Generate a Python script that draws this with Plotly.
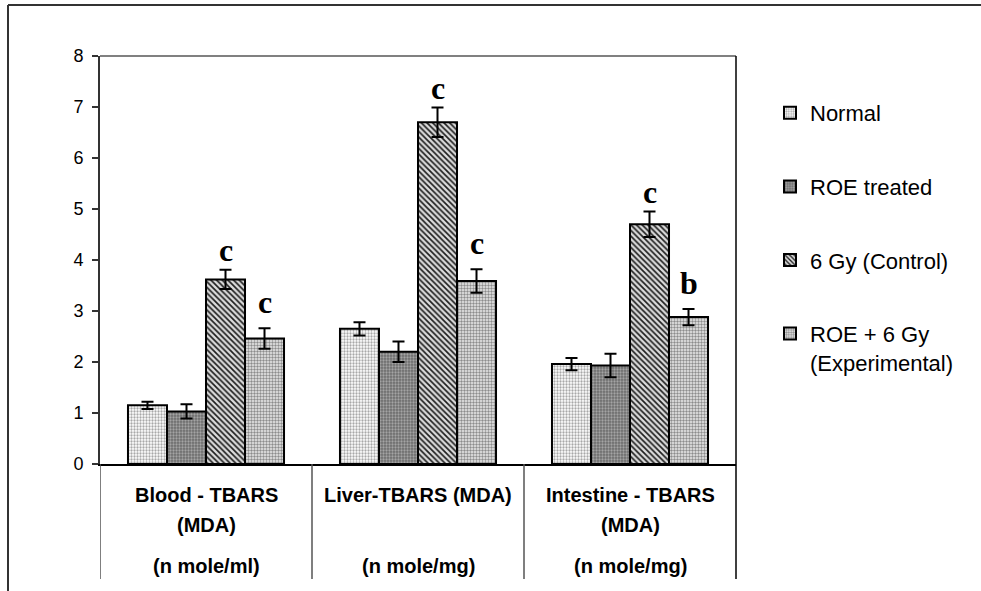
import plotly.graph_objects as go

# ---------------- data ----------------
categories = ["Blood", "Liver", "Intestine"]
label_line1 = ["Blood - TBARS", "Liver-TBARS (MDA)", "Intestine - TBARS"]
label_line2 = ["(MDA)", "", "(MDA)"]
units = ["(n mole/ml)", "(n mole/mg)", "(n mole/mg)"]

series_names = ["Normal", "ROE treated", "6 Gy (Control)", "ROE + 6 Gy<br>(Experimental)"]
normal = [1.15, 2.65, 1.96]
roe = [1.03, 2.20, 1.93]
gy6 = [3.62, 6.70, 4.70]
experimental = [2.46, 3.59, 2.88]

normal_err = [0.07, 0.13, 0.12]
roe_err = [0.14, 0.20, 0.23]
gy6_err = [0.19, 0.29, 0.25]
experimental_err = [0.20, 0.23, 0.16]

gy6_letters = ["c", "c", "c"]
experimental_letters = ["c", "c", "b"]

y_ticks = [0, 1, 2, 3, 4, 5, 6, 7, 8]

# ---------------- layout constants ----------------
W, H = 981, 591
ML, MR, MT, MB = 100, 245, 56, 127
PW, PH = W - ML - MR, H - MT - MB
BARGAP = 0.264


def px_x(px):
    return (px - ML) / PW


def px_y(py):
    return (H - MB - py) / PH


styles = [
    dict(bg="#ffffff", fg="#a8a8a8", shape=".", size=3, solidity=0.45),
    dict(bg="#6c6c6c", fg="#a4a4a4", shape=".", size=3, solidity=0.45),
    dict(bg="#dcdcdc", fg="#1e1e1e", shape="\\", size=4, solidity=0.42),
    dict(bg="#ececec", fg="#8c8c8c", shape=".", size=3, solidity=0.5),
]

values = [normal, roe, gy6, experimental]
errors = [normal_err, roe_err, gy6_err, experimental_err]

fig = go.Figure()
for k, (name, vals, errs, st) in enumerate(zip(series_names, values, errors, styles)):
    fig.add_trace(go.Bar(
        x=categories, y=vals, name=name, legendgroup=f"g{k}",
        marker=dict(color=st["bg"], line=dict(color="black", width=2),
                    pattern=dict(shape=st["shape"], fgcolor=st["fg"], bgcolor=st["bg"],
                                 size=st["size"], solidity=st["solidity"], fillmode="replace")),
        error_y=dict(type="data", array=errs, visible=True, color="black", thickness=2, width=6),
    ))

bar_w = (1 - BARGAP) / 4
annotations = []
for k, (vals, errs, letters, shift) in enumerate([(gy6, gy6_err, gy6_letters, 0),
                                                    (experimental, experimental_err, experimental_letters, 6)]):
    series_idx = 2 + k
    for i, (v, e, t) in enumerate(zip(vals, errs, letters)):
        annotations.append(dict(
            x=i + (series_idx - 1.5) * bar_w, y=v + e, xref="x", yref="y",
            text=t, showarrow=False, yanchor="bottom", yshift=shift,
            font=dict(family="Liberation Serif", size=32, color="black", weight="bold"),
        ))

for i in range(len(categories)):
    annotations.append(dict(x=i, y=px_y(495), xref="x", yref="paper", text=f"<b>{label_line1[i]}</b>",
                            showarrow=False, yanchor="middle",
                            font=dict(family="Liberation Sans", size=20, color="black")))
    if label_line2[i]:
        annotations.append(dict(x=i, y=px_y(525), xref="x", yref="paper", text=f"<b>{label_line2[i]}</b>",
                                showarrow=False, yanchor="middle",
                                font=dict(family="Liberation Sans", size=20, color="black")))
    annotations.append(dict(x=i, y=px_y(566), xref="x", yref="paper", text=f"<b>{units[i]}</b>",
                            showarrow=False, yanchor="middle",
                            font=dict(family="Liberation Sans", size=20, color="black")))

shapes = []
# outer chart border (top and left)
shapes.append(dict(type="line", xref="paper", yref="paper", x0=px_x(8), x1=px_x(W), y0=px_y(5), y1=px_y(5),
                   line=dict(color="#333333", width=2)))
shapes.append(dict(type="line", xref="paper", yref="paper", x0=px_x(8), x1=px_x(8), y0=px_y(5), y1=px_y(H),
                   line=dict(color="#333333", width=2)))
# plot area top border
shapes.append(dict(type="line", xref="paper", yref="paper", x0=0, x1=1, y0=1, y1=1,
                   line=dict(color="#808080", width=2)))
# right border extended down through label table
shapes.append(dict(type="line", xref="paper", yref="paper", x0=1, x1=1, y0=1, y1=px_y(579),
                   line=dict(color="black", width=1.5)))
# category separators
for b in range(len(categories)):
    shapes.append(dict(type="line", xref="x", yref="paper", x0=b - 0.5, x1=b - 0.5, y0=0, y1=px_y(579),
                       line=dict(color="#555555", width=1.5)))

fig.update_layout(
    width=W, height=H,
    margin=dict(l=ML, r=MR, t=MT, b=MB, pad=0),
    paper_bgcolor="white", plot_bgcolor="white",
    barmode="group", bargap=BARGAP, bargroupgap=0,
    font=dict(family="Liberation Sans", color="black"),
    showlegend=True,
    legend=dict(x=px_x(770), xanchor="left", y=px_y(92), yanchor="top",
                font=dict(family="Liberation Sans", size=22, color="black"),
                tracegroupgap=42, valign="top", bgcolor="rgba(0,0,0,0)", traceorder="grouped"),
    xaxis=dict(showticklabels=False, ticks="", showline=True, linecolor="black", linewidth=1.5,
               showgrid=False, zeroline=False, range=[-0.5, 2.5]),
    yaxis=dict(range=[0, 8], tickvals=y_ticks, ticks="outside", ticklen=6, tickwidth=1.5,
               tickcolor="#333333", showline=True, linecolor="#333333", linewidth=2, ticklabelstandoff=5,
               showgrid=False, zeroline=False, tickfont=dict(size=18, family="Liberation Sans", color="black")),
    annotations=annotations,
    shapes=shapes,
)

fig.write_html("out.html")
